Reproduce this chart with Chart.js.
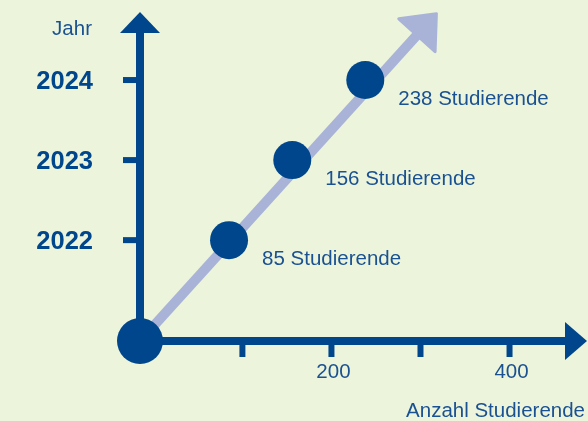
<!DOCTYPE html>
<html lang="de">
<head>
<meta charset="utf-8">
<title>Studierende pro Jahr</title>
<script src="https://cdn.jsdelivr.net/npm/chart.js@4.4.1/dist/chart.umd.min.js"></script>
<style>
    html, body { margin: 0; padding: 0; background: #ecf5db; overflow: hidden; }
    canvas { display: block; }
</style>
</head>
<body>
<canvas id="chart" width="588" height="421"></canvas>
<script>
const jahre = [2022, 2023, 2024];
const studierende = [85, 156, 238];
const xTickWerte = [100, 200, 300, 400];
const xTickTexte = ['', '200', '', '400'];
const yTickWerte = [2022, 2023, 2024];
// where the two axes cross (big dot)
const ursprung = [-15, 2020.74];
// light arrow through the points
const trendX = [-15, 296];
const trendY = [2020.74, 2024.56];

const dunkelblau = '#00468c';
const textblau = '#1a5192';
const lavendel = '#a9b3d8';
const schrift = '"Liberation Sans", Arial, sans-serif';

const achsen = {
    id: 'achsen',
    beforeDatasetsDraw(chart) {
        const { ctx, chartArea, scales: { x, y } } = chart;
        const ox = x.getPixelForValue(ursprung[0]);
        const oy = y.getPixelForValue(ursprung[1]);
        const top = chartArea.top;
        const right = chartArea.right;
        ctx.save();

        // head of the light arrow
        const x0 = x.getPixelForValue(trendX[0]), y0 = y.getPixelForValue(trendY[0]);
        const x1 = x.getPixelForValue(trendX[1]), y1 = y.getPixelForValue(trendY[1]);
        const len = Math.hypot(x1 - x0, y1 - y0);
        const dx = (x1 - x0) / len, dy = (y1 - y0) / len;
        const L = 29, W = 24.5;
        ctx.fillStyle = lavendel;
        ctx.strokeStyle = lavendel;
        ctx.lineWidth = 3;
        ctx.lineJoin = 'round';
        ctx.beginPath();
        ctx.moveTo(x1 + dx * L, y1 + dy * L);
        ctx.lineTo(x1 - dy * W, y1 + dx * W);
        ctx.lineTo(x1 + dy * W, y1 - dx * W);
        ctx.closePath();
        ctx.fill();
        ctx.stroke();

        // axes
        ctx.fillStyle = dunkelblau;
        ctx.fillRect(ox - 4, top + 20, 8, oy - top - 20);
        ctx.beginPath();
        ctx.moveTo(ox, top);
        ctx.lineTo(ox + 20, top + 21);
        ctx.lineTo(ox - 20, top + 21);
        ctx.closePath();
        ctx.fill();

        ctx.fillRect(ox, oy - 4, right - 21 - ox, 8);
        ctx.beginPath();
        ctx.moveTo(right, oy);
        ctx.lineTo(right - 22, oy - 19);
        ctx.lineTo(right - 22, oy + 19);
        ctx.closePath();
        ctx.fill();

        // y ticks + labels
        ctx.textAlign = 'right';
        ctx.font = 'bold 25.5px ' + schrift;
        yTickWerte.forEach(v => {
            const py = y.getPixelForValue(v);
            ctx.fillStyle = dunkelblau;
            ctx.fillRect(ox - 17, py - 3, 13, 6);
            ctx.fillText(String(v), 93, py + 9);
        });
        ctx.font = '20.5px ' + schrift;
        ctx.fillStyle = textblau;
        ctx.fillText('Jahr', 92, top + 23);

        // x ticks + labels
        ctx.textAlign = 'center';
        xTickWerte.forEach((v, i) => {
            const px = x.getPixelForValue(v);
            ctx.fillStyle = dunkelblau;
            ctx.fillRect(px - 3, oy + 4, 6, 12);
            ctx.fillStyle = textblau;
            ctx.fillText(xTickTexte[i], px + 2, oy + 37);
        });
        ctx.textAlign = 'right';
        ctx.fillText('Anzahl Studierende', 585, chart.height - 4);
        ctx.restore();
    },
    afterDatasetsDraw(chart) {
        const { ctx, scales: { x, y } } = chart;
        ctx.save();
        ctx.font = '20.5px ' + schrift;
        ctx.fillStyle = textblau;
        ctx.textAlign = 'left';
        studierende.forEach((v, i) => {
            const px = x.getPixelForValue(v);
            const py = y.getPixelForValue(jahre[i]);
            ctx.fillText(v + ' Studierende', px + 33, py + 25);
        });
        ctx.restore();
    }
};

new Chart(document.getElementById('chart'), {
    type: 'scatter',
    data: {
        datasets: [
            {
                label: 'Studierende',
                data: studierende.map((v, i) => ({ x: v, y: jahre[i] })),
                backgroundColor: dunkelblau,
                borderWidth: 0,
                pointRadius: 19,
                pointHoverRadius: 19,
                clip: false
            },
            {
                label: 'Ursprung',
                data: [{ x: ursprung[0], y: ursprung[1] }],
                backgroundColor: dunkelblau,
                borderWidth: 0,
                pointRadius: 23,
                pointHoverRadius: 23,
                clip: false
            },
            {
                label: 'Trend',
                data: trendX.map((v, i) => ({ x: v, y: trendY[i] })),
                showLine: true,
                borderColor: lavendel,
                borderWidth: 10,
                pointRadius: 0,
                clip: false
            }
        ]
    },
    options: {
        responsive: false,
        animation: false,
        events: [],
        layout: { autoPadding: false, padding: { left: 140, top: 12, right: 1, bottom: 80 } },
        scales: {
            x: { type: 'linear', display: false, min: -15, max: 487 },
            y: { type: 'linear', display: false, min: 2020.74, max: 2024.85 }
        },
        plugins: {
            legend: { display: false },
            tooltip: { enabled: false }
        }
    },
    plugins: [achsen]
});
</script>
</body>
</html>
